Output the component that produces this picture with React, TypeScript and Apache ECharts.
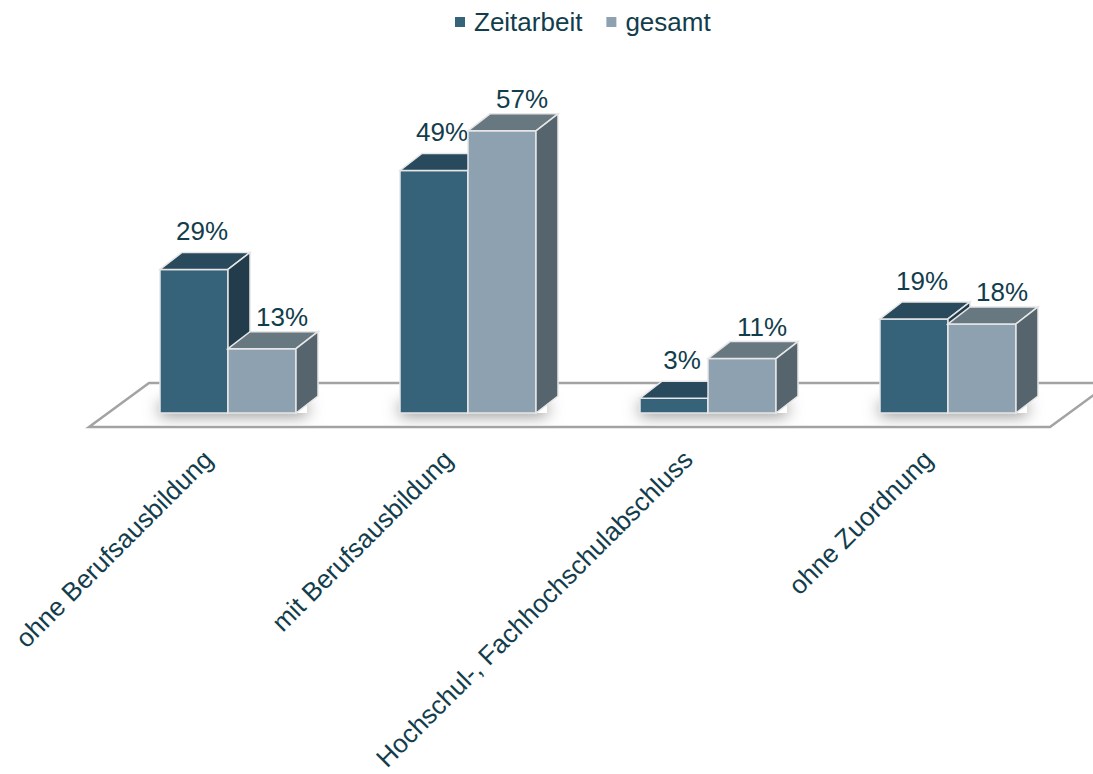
import React, { useEffect, useRef } from "react";
import * as echarts from "echarts";

const categories = [
  "ohne Berufsausbildung",
  "mit Berufsausbildung",
  "Hochschul-, Fachhochschulabschluss",
  "ohne Zuordnung",
];
const zeitarbeit = [29, 49, 3, 19];
const gesamt = [13, 57, 11, 18];
const seriesNames = ["Zeitarbeit", "gesamt"];

const TEXT = "#123d4c";
const FONT = "'Liberation Sans', Arial, Helvetica, sans-serif";
const FS = 26;

const palettes = [
  { front: "#37637a", top: "#294a5c", side: "#233c4b", lx: 8, ly: 21 },
  { front: "#8da1b0", top: "#687880", side: "#55646d", lx: 20, ly: 15 },
];

const DX = 22;
const DY = 17;
const EDGE = "#e6e6e6";

function barRender(si: number) {
  return (params: any, api: any) => {
    const idx = api.value(0);
    const val = api.value(1);
    const base = api.coord([idx, 0]);
    const topPt = api.coord([idx, val]);
    const band = api.size([1, 0])[0];
    const w = (band * 68) / 240;
    const L = base[0] - w + si * w;
    const y0 = base[1];
    const yT = topPt[1];
    const p = palettes[si];
    return {
      type: "group",
      children: [
        {
          type: "rect",
          shape: { x: L, y: yT, width: w, height: y0 - yT },
          style: { fill: p.front, stroke: EDGE, lineWidth: 1.5 },
        },
        {
          type: "polygon",
          shape: {
            points: [
              [L, yT],
              [L + DX, yT - DY],
              [L + w + DX, yT - DY],
              [L + w, yT],
            ],
          },
          style: { fill: p.top, stroke: EDGE, lineWidth: 1.5 },
        },
        {
          type: "polygon",
          shape: {
            points: [
              [L + w, yT],
              [L + w + DX, yT - DY],
              [L + w + DX, y0 - DY],
              [L + w, y0],
            ],
          },
          style: { fill: p.side, stroke: EDGE, lineWidth: 1.5 },
        },
        {
          type: "text",
          x: L + w / 2 + p.lx,
          y: yT - DY - p.ly,
          style: {
            text: val + "%",
            fill: TEXT,
            fontSize: FS,
            fontFamily: FONT,
            align: "center",
            verticalAlign: "middle",
          },
        },
      ],
    };
  };
}

function floorRender(params: any, api: any) {
  const idx = api.value(0);
  const cs = params.coordSys;
  const base = api.coord([idx, 0]);
  const band = api.size([1, 0])[0];
  const w = (band * 68) / 240;
  const y0 = base[1];
  const children: any[] = [];
  if (idx === 0) {
    const l = cs.x;
    const r = cs.x + cs.width;
    children.push({
      type: "polygon",
      shape: {
        points: [
          [l - 19, y0 + 14],
          [l + 41, y0 - 30],
          [r + 42, y0 - 30],
          [r - 18, y0 + 14],
        ],
      },
      style: { fill: "#ffffff", stroke: "#a3a3a3", lineWidth: 2.5 },
    });
  }
  children.push({
    type: "rect",
    shape: { x: base[0] - w, y: y0 - 12, width: 2 * w + DX * 0.5, height: 12 },
    style: {
      fill: "#ffffff",
      shadowBlur: 16,
      shadowColor: "rgba(0,0,0,0.5)",
      shadowOffsetY: 2,
    },
  });
  children.push({
    type: "text",
    x: base[0] - 20,
    y: y0 + 42,
    rotation: Math.PI / 4,
    style: {
      text: categories[idx],
      fill: TEXT,
      fontSize: FS,
      fontFamily: FONT,
      align: "right",
      verticalAlign: "middle",
    },
  });
  return { type: "group", children };
}

export default function App() {
  const ref = useRef<HTMLDivElement>(null);
  useEffect(() => {
    const chart = echarts.init(ref.current!, null, { renderer: "svg" });
    chart.setOption({
      animation: false,
      backgroundColor: "#ffffff",
      legend: {
        data: seriesNames,
        left: 450,
        top: 4,
        icon: "rect",
        itemWidth: 10,
        itemHeight: 10,
        itemGap: 24,
        textStyle: {
          fontSize: FS,
          color: TEXT,
          fontFamily: FONT,
          padding: [0, 0, 0, 4],
        },
      },
      grid: { left: 108, width: 960, top: 116, height: 297 },
      xAxis: {
        type: "category",
        data: categories,
        show: false,
      },
      yAxis: { type: "value", min: 0, max: 60, show: false },
      series: [
        {
          type: "custom",
          name: "floor",
          renderItem: floorRender,
          data: categories.map((_, i) => [i, 0]),
          encode: { x: 0, y: 1 },
          silent: true,
          z: 1,
        },
        {
          type: "custom",
          name: seriesNames[0],
          renderItem: barRender(0),
          itemStyle: { color: palettes[0].front },
          data: zeitarbeit.map((v, i) => [i, v]),
          encode: { x: 0, y: 1 },
          z: 2,
        },
        {
          type: "custom",
          name: seriesNames[1],
          renderItem: barRender(1),
          itemStyle: { color: palettes[1].front },
          data: gesamt.map((v, i) => [i, v]),
          encode: { x: 0, y: 1 },
          z: 3,
        },
      ],
    });
    return () => chart.dispose();
  }, []);
  return (
    <div
      ref={ref}
      style={{ position: "fixed", left: 0, top: 0, width: 1093, height: 774 }}
    />
  );
}
